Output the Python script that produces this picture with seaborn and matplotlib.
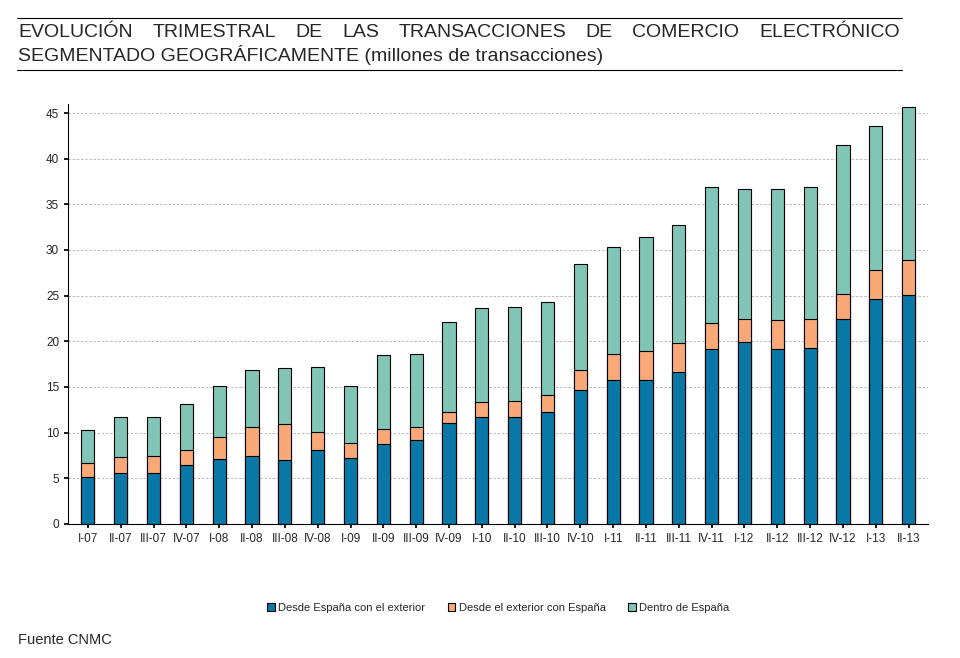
import numpy as np
import pandas as pd
import matplotlib
matplotlib.use("Agg")
import matplotlib.pyplot as plt
import seaborn as sns

quarters = ["I-07", "II-07", "III-07", "IV-07", "I-08", "II-08", "III-08", "IV-08",
            "I-09", "II-09", "III-09", "IV-09", "I-10", "II-10", "III-10", "IV-10",
            "I-11", "II-11", "III-11", "IV-11", "I-12", "II-12", "III-12", "IV-12",
            "I-13", "II-13"]
desde_espana = [5.1, 5.6, 5.6, 6.4, 7.1, 7.4, 7.0, 8.1, 7.2, 8.7, 9.2, 11.0, 11.7, 11.7,
                12.3, 14.7, 15.8, 15.8, 16.6, 19.2, 19.9, 19.2, 19.3, 22.4, 24.6, 25.1]
desde_exterior = [1.6, 1.7, 1.8, 1.7, 2.4, 3.2, 3.9, 2.0, 1.7, 1.7, 1.4, 1.3, 1.6, 1.8,
                  1.8, 2.1, 2.8, 3.1, 3.2, 2.8, 2.5, 3.1, 3.1, 2.8, 3.2, 3.8]
dentro = [3.6, 4.4, 4.3, 5.0, 5.6, 6.2, 6.2, 7.1, 6.2, 8.1, 8.0, 9.8, 10.3, 10.3,
          10.2, 11.7, 11.7, 12.5, 12.9, 14.9, 14.3, 14.4, 14.5, 16.3, 15.8, 16.8]

series = ["Desde España con el exterior", "Desde el exterior con España", "Dentro de España"]
colors = ["#0a78a6", "#f9a878", "#80c5b6"]

df = pd.DataFrame({"q": quarters, series[0]: desde_espana,
                   series[1]: desde_exterior, series[2]: dentro})
cum = df[series].cumsum(axis=1)

sns.set_theme(style="white")
plt.rcParams["font.family"] = ["Liberation Sans", "DejaVu Sans"]

fig = plt.figure(figsize=(9.6, 6.58), dpi=100)
ax = fig.add_axes([0.071, 0.204, 0.896, 0.638])

# draw from the tallest stack down so lower segments overlay
for i in reversed(range(3)):
    sns.barplot(x=df["q"], y=cum[series[i]], color=colors[i], edgecolor="black",
                linewidth=0.8, width=0.4, saturation=1, ax=ax, label=series[i])

ax.set_ylim(0, 46)
ax.set_xlim(-0.6, len(quarters) - 0.4)
ax.set_yticks(range(0, 46, 5))
ax.yaxis.grid(True, color="#b0b0b0", linestyle=(0, (3, 2)), linewidth=0.6)
ax.set_axisbelow(True)
ax.set_xlabel("")
ax.set_ylabel("")
for s in ["top", "right"]:
    ax.spines[s].set_visible(False)
for s in ["left", "bottom"]:
    ax.spines[s].set_color("black")
    ax.spines[s].set_linewidth(0.8)
ax.tick_params(axis="both", labelsize=8.5, length=3, color="black", bottom=True, left=True)

handles, labels = ax.get_legend_handles_labels()
order = [labels.index(s) for s in series]
ax.legend([handles[k] for k in order], [labels[k] for k in order], loc="upper center",
          bbox_to_anchor=(0.5, -0.165), ncol=3, frameon=False, fontsize=8,
          handlelength=0.7, handleheight=0.7, columnspacing=2, handletextpad=0.3)

fig.add_artist(plt.Line2D([0.018, 0.94], [0.973, 0.973], color="black", lw=0.8))
fig.add_artist(plt.Line2D([0.018, 0.94], [0.894, 0.894], color="black", lw=0.8))
line1 = ["EVOLUCIÓN", "TRIMESTRAL", "DE", "LAS", "TRANSACCIONES", "DE", "COMERCIO", "ELECTRÓNICO"]
# justify the first title line across the full width
t0 = fig.text(0.019, 0.951, line1[0], fontsize=14, va="center")
fig.canvas.draw()
r = fig.canvas.get_renderer()
widths = []
for w in line1:
    t = fig.text(0, 0, w, fontsize=14)
    widths.append(t.get_window_extent(r).width / fig.bbox.width)
    t.remove()
t0.remove()
gap = (0.937 - 0.019 - sum(widths)) / (len(line1) - 1)
x = 0.019
for w, wd in zip(line1, widths):
    fig.text(x, 0.951, w, fontsize=14, va="center")
    x += wd + gap
fig.text(0.019, 0.916, "SEGMENTADO GEOGRÁFICAMENTE (millones de transacciones)",
         fontsize=14, va="center")
fig.text(0.019, 0.022, "Fuente CNMC", fontsize=10.5)

fig.savefig("out.png", dpi=100)
